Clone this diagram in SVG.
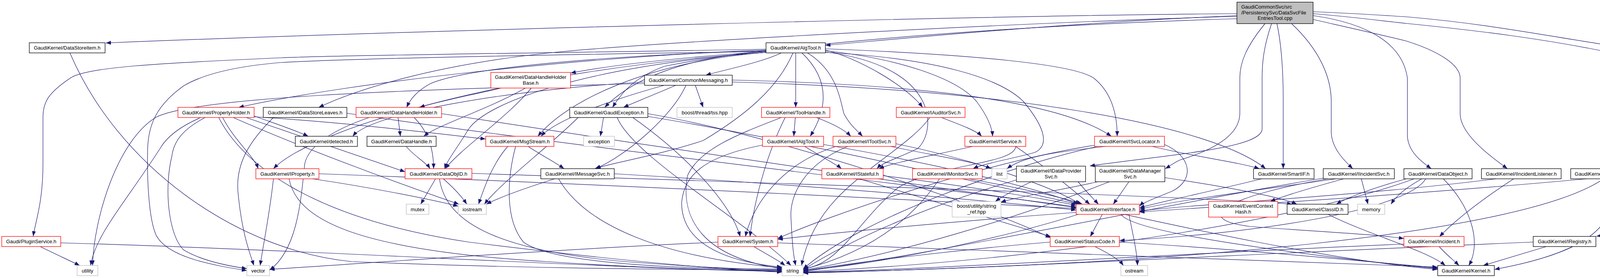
<svg xmlns="http://www.w3.org/2000/svg" width="4320" height="712" viewBox="0 0 4320 712">
<style>
.n rect{fill:#fff;stroke:#000;stroke-width:1.3}
.r rect{stroke:#f00}
.g rect{stroke:#bfbfbf}
.root rect{fill:#bfbfbf}
text{font-family:"Liberation Sans",Arial,sans-serif;font-size:13px;text-anchor:middle;fill:#000}
.l{text-anchor:start}
#edges path{fill:none;stroke:#191970;stroke-width:1.2;marker-end:url(#a)}
</style>
<defs>
<marker id="a" markerUnits="userSpaceOnUse" markerWidth="14" markerHeight="11" refX="13" refY="5" orient="auto"><path d="M0,0 L13,5 L0,10 z" fill="#191970"/></marker>
</defs>
<rect width="4320" height="712" fill="#fff"/>
<g id="edges">
<path d="M3166,35 C2500,40 1000,80 271,110"/>
<path d="M3166,40 C2700,60 2300,100 2113,116"/>
<path d="M3166,42 C2700,55 1800,100 1440,132 C1100,165 900,235 816,275"/>
<path d="M3166,48 C2600,65 2000,110 1700,170 C1620,200 1590,240 1568,275"/>
<path d="M3238,61 C3190,120 3174,160 3174,200 L3174,290 C3174,340 3120,380 3020,410 C3000,420 2990,428 2983,432"/>
<path d="M3255,61 C3235,120 3231,160 3231,200 L3231,330 C3231,380 3000,395 2790,425"/>
<path d="M3269,61 C3282,120 3285,200 3285,250 L3285,432"/>
<path d="M3307,61 C3380,130 3408,200 3408,260 L3408,340 C3410,380 3440,410 3463,432"/>
<path d="M3362,40 C3500,60 3590,110 3603,200 L3603,350 C3606,390 3640,415 3664,432"/>
<path d="M3362,50 C3450,70 3540,90 3600,105 C3680,130 3738,165 3738,200 L3738,293 C3740,340 3800,390 3859,432"/>
<path d="M3362,35 C3480,45 3550,55 3600,60 C3800,80 3950,100 4100,130 C4230,160 4263,180 4263,200 L4263,293 C4263,340 4200,390 4151,432"/>
<path d="M3362,30 C3480,35 3550,40 3600,43 C3800,60 3950,90 4100,113 C4200,125 4290,120 4305,190 L4308,200 L4308,490 C4295,560 4200,590 4087,605"/>
<path d="M1961,126 C1500,135 900,140 720,148 C400,162 220,172 180,200 C120,240 110,265 110,300 L110,420 C110,520 90,570 85,605"/>
<path d="M1961,128 C1500,145 900,210 611,275"/>
<path d="M1961,130 C1600,140 1200,170 1100,215 C1065,235 1050,255 1041,275"/>
<path d="M1961,132 C1700,150 1550,170 1461,187"/>
<path d="M2000,135.5 C1950,160 1850,180 1807,192.5"/>
<path d="M2037,135.5 L2037,275"/>
<path d="M2053,135.5 C2110,190 2130,260 2074,349"/>
<path d="M2067,135.5 C2140,180 2150,250 2160,290 C2175,320 2195,335 2208,349"/>
<path d="M2030,135.5 C1990,230 1900,300 1800,360 C1680,400 1560,418 1523,432"/>
<path d="M2113,128 C2200,150 2320,220 2362,275"/>
<path d="M2113,130 C2300,150 2450,200 2500,260 C2530,300 2540,330 2541,349"/>
<path d="M2113,133 C2400,170 2400,330 2350,380 C2300,405 2260,415 2245,432"/>
<path d="M2113,134 C2400,150 2560,200 2620,260 C2670,320 2690,370 2650,390 C2600,405 2520,418 2491,432"/>
<path d="M2113,125 C2500,140 2750,165 2800,200 C2850,240 2860,300 2860,349"/>
<path d="M1961,134 C1300,180 800,330 700,432"/>
<path d="M1961,134 C1500,170 1250,260 1200,330 C1170,380 1145,410 1138,432"/>
<path d="M1961,130 C1750,150 1620,200 1548,275"/>
<path d="M1961,134 C1650,160 1450,260 1377,349"/>
<path d="M1961,132 C1400,140 900,150 720,160 C600,170 520,190 470,220 C400,270 380,320 378,380 C376,450 380,560 400,603 C430,660 550,680 632,693"/>
<path d="M179,135.5 C300,420 600,640 900,670 C1400,690 1800,690 2002,692"/>
<path d="M103,631.5 C140,650 180,668 204,680"/>
<path d="M155.5,622 C800,640 1600,690 2002,695"/>
<path d="M570,301 C600,360 650,400 661,432"/>
<path d="M514,301 C470,320 430,345 410,380 C320,520 245,600 232,680"/>
<path d="M525,301 C470,330 445,360 440,400 C420,480 430,600 470,640 C520,670 590,682 632,688"/>
<path d="M560,301 C620,420 800,560 1200,620 C1600,670 1850,690 2002,697"/>
<path d="M597,301 C800,390 1050,480 1175,523"/>
<path d="M650.5,297 C700,315 760,335 789,349"/>
<path d="M650.5,299 C900,315 1100,340 1243,356"/>
<path d="M630,301 C800,360 950,410 1037,440"/>
<path d="M700,301 C640,360 600,420 610,500 C620,600 640,650 650,680"/>
<path d="M888,290 C1500,380 2400,480 2755,530"/>
<path d="M1019,301 L1025,349"/>
<path d="M945,301 C860,330 790,370 780,420 C770,520 760,640 690,692"/>
<path d="M1130,291 C1700,380 2400,480 2755,532"/>
<path d="M1060,301 C1100,340 1110,390 1110,432"/>
<path d="M1283,225.5 C1200,245 1120,260 1074,275"/>
<path d="M1345,225.5 C1250,280 1120,320 1085,349"/>
<path d="M1360,225.5 C1300,300 1180,380 1140,432"/>
<path d="M1040,375 C1060,400 1090,415 1101,432"/>
<path d="M1115,458 L1077,523"/>
<path d="M1135,458 C1160,480 1180,500 1195,523"/>
<path d="M1125,458 C1140,560 1250,640 1600,670 C1800,685 1900,690 2002,690"/>
<path d="M1208,444 C2000,470 3000,500 3308,523"/>
<path d="M1352,375 C1390,400 1420,415 1444,432"/>
<path d="M1320,375 C1300,450 1290,560 1340,620 C1420,680 1800,690 2002,689"/>
<path d="M1300,375 C1260,420 1240,480 1225,523"/>
<path d="M1730,218.5 C1680,240 1630,260 1596,275"/>
<path d="M1780,218.5 L1800,275"/>
<path d="M1756,218.5 C1720,300 1600,400 1525,432"/>
<path d="M1874,205 C2300,215 2700,250 2845,349"/>
<path d="M1700,218.5 C1550,260 1420,310 1385,349"/>
<path d="M1874,210 C2600,230 3100,320 3240,432"/>
<path d="M1650,210 C1300,230 950,290 903,349"/>
<path d="M1650,214 C1000,230 500,250 400,300 C300,360 240,560 237,680"/>
<path d="M1545,301 L1537,349"/>
<path d="M1480,301 C1400,380 1280,470 1240,523"/>
<path d="M1580,301 C1620,400 1900,560 2025,680"/>
<path d="M1620,301 C1760,400 1870,520 1895,606"/>
<path d="M1658,291 C2000,350 2500,520 2690,609"/>
<path d="M1658,298 C2400,420 3200,650 3680,690"/>
<path d="M2036,301 L2032,349"/>
<path d="M2090,301 C2140,320 2165,335 2178,349"/>
<path d="M2000,301 C1900,340 1790,380 1760,450 C1740,560 1800,660 2002,688"/>
<path d="M2010,301 C1960,400 1930,520 1920,606"/>
<path d="M2060,375 C2100,400 2140,420 2154,432"/>
<path d="M1960,370 C1800,400 1750,450 1745,520 C1745,620 1850,670 2002,684"/>
<path d="M2108,370 C2400,420 2650,480 2760,523"/>
<path d="M2280,375 C2400,400 2500,415 2537,432"/>
<path d="M2170,375 C2060,420 2020,500 2025,560 C2028,620 2030,650 2037,680"/>
<path d="M2140,375 C2000,420 1930,520 1908,606"/>
<path d="M2293,368 C2500,410 2700,480 2765,523"/>
<path d="M2410,301 C2460,320 2500,335 2513,349"/>
<path d="M2380,301 C2340,360 2230,420 2150,500 C2080,570 2060,640 2052,680"/>
<path d="M2490,375 C2380,400 2290,415 2250,432"/>
<path d="M2600,375 C2600,420 2400,420 2300,480 C2200,560 2150,680 2056,688"/>
<path d="M2600,375 C2680,430 2750,490 2790,523"/>
<path d="M2830,375 C2700,390 2620,400 2578,432"/>
<path d="M2950,375 C3050,400 3170,415 3224,432"/>
<path d="M2981,370 C3050,400 3060,460 3000,490 C2950,510 2925,520 2917,528"/>
<path d="M2810,375 C2600,420 2200,560 2056,689"/>
<path d="M2802,372 C2500,420 2100,560 1991,611"/>
<path d="M816,445 C1500,470 2300,510 2755,534"/>
<path d="M800,458 C950,480 1100,510 1173,528"/>
<path d="M740,458 C760,560 900,640 1400,670 C1700,690 1900,692 2002,694"/>
<path d="M700,458 C690,550 675,620 666,680"/>
<path d="M1420,458 C1350,480 1280,505 1245,523"/>
<path d="M1572,445 C2000,470 2500,510 2755,538"/>
<path d="M1430,458 C1500,580 1700,660 2002,686"/>
<path d="M2261,450 C2500,480 2680,510 2755,526"/>
<path d="M2200,458 C2400,520 2600,580 2690,606"/>
<path d="M2480,458 C2600,480 2720,505 2771,523"/>
<path d="M2405,458 C2350,540 2250,640 2056,690"/>
<path d="M2640,465.5 C2610,480 2570,500 2548,516"/>
<path d="M2760,465.5 C2780,490 2800,510 2812,523"/>
<path d="M2605,460 C2400,520 2200,600 2056,691"/>
<path d="M2810,465.5 C2700,490 2600,505 2562,518"/>
<path d="M2890,465.5 L2850,523"/>
<path d="M2840,465.5 C2600,560 2300,650 2056,692"/>
<path d="M2982,455 C3150,480 3280,505 3320,523"/>
<path d="M3230,458 C3100,490 2980,515 2917,532"/>
<path d="M3420,458 C3200,490 3000,515 2917,536"/>
<path d="M3440,458 C3360,480 3290,500 3252,516"/>
<path d="M3485,458 L3502,523"/>
<path d="M3400,458 C3150,500 3040,560 3200,580 C3400,595 3520,600 3594,611"/>
<path d="M3390,456 C3000,520 2400,650 2056,695"/>
<path d="M3600,458 C3520,480 3450,505 3421,523"/>
<path d="M3640,458 C3600,480 3575,500 3561,523"/>
<path d="M3620,458 C3400,540 2800,660 2056,696"/>
<path d="M3650,458 C3600,540 3200,600 2866,616"/>
<path d="M3695,458 C3775,540 3790,630 3760,680"/>
<path d="M3830,458 C3500,500 3100,520 2917,540"/>
<path d="M3875,458 C3780,520 3720,570 3685,606"/>
<path d="M4062,458 C3600,500 3100,530 2917,543"/>
<path d="M4128,458 C4140,560 4100,640 3826,690"/>
<path d="M4105,458 C3900,600 3000,680 2056,698"/>
<path d="M3925,620 C3200,650 2500,690 2056,699"/>
<path d="M3960,631 C3880,655 3830,670 3797,680"/>
<path d="M3684,631 C3700,650 3720,665 3735,680"/>
<path d="M3594,625 C3000,650 2400,690 2056,697"/>
<path d="M2822,549 C2810,570 2800,590 2791,606"/>
<path d="M2755,544 C2400,570 2100,600 1991,613"/>
<path d="M2870,549 C2900,600 3400,660 3680,688"/>
<path d="M2890,549 C2900,600 2910,640 2912,680"/>
<path d="M2760,549 C2600,600 2300,670 2056,693"/>
<path d="M2803,631.5 C2840,650 2865,665 2876,680"/>
<path d="M2866,620 C3200,640 3500,670 3680,686"/>
<path d="M2688,620 C2450,640 2200,670 2056,694"/>
<path d="M1930,631.5 C1960,650 1990,665 2010,680"/>
<path d="M1838,620 C1400,640 1000,670 690,690"/>
<path d="M1991,622 C2600,640 3200,670 3680,684"/>
<path d="M3400,549 C3500,600 3650,640 3700,680"/>
</g>
<g id="node_root" class="n root"><rect x="3166.5" y="5.5" width="195" height="55"/><text class="l" x="3177.5" y="21.5">GaudiCommonSvc/src</text><text class="l" x="3177.5" y="36.5">/PersistencySvc/DataSvcFile</text><text x="3264" y="51">EntriesTool.cpp</text></g>
<g id="node_DataStoreItem" class="n"><rect x="75" y="109.5" width="194" height="26"/><text x="172" y="127">GaudiKernel/DataStoreItem.h</text></g>
<g id="node_AlgTool" class="n"><rect x="1961" y="109.5" width="152" height="26"/><text x="2037" y="127">GaudiKernel/AlgTool.h</text></g>
<g id="node_DataHandleHolderBase" class="n r"><rect x="1256.5" y="185.5" width="204" height="40"/><text x="1358.5" y="201.5">GaudiKernel/DataHandleHolder</text><text x="1358.5" y="216.5">Base.h</text></g>
<g id="node_CommonMessaging" class="n"><rect x="1650" y="192.5" width="224.5" height="26"/><text x="1762" y="210">GaudiKernel/CommonMessaging.h</text></g>
<g id="node_PropertyHolder" class="n r"><rect x="455.5" y="275" width="195" height="26"/><text x="553" y="292.5">GaudiKernel/PropertyHolder.h</text></g>
<g id="node_IDataStoreLeaves" class="n"><rect x="674" y="275" width="214" height="26"/><text x="781" y="292.5">GaudiKernel/IDataStoreLeaves.h</text></g>
<g id="node_IDataHandleHolder" class="n r"><rect x="911.5" y="275" width="219" height="26"/><text x="1021" y="292.5">GaudiKernel/IDataHandleHolder.h</text></g>
<g id="node_GaudiException" class="n"><rect x="1458.5" y="275" width="200" height="26"/><text x="1558.5" y="292.5">GaudiKernel/GaudiException.h</text></g>
<g id="node_tss" class="n g"><rect x="1733" y="275" width="141.5" height="26"/><text x="1804" y="292.5">boost/thread/tss.hpp</text></g>
<g id="node_ToolHandle" class="n r"><rect x="1949.5" y="275" width="175" height="26"/><text x="2037" y="292.5">GaudiKernel/ToolHandle.h</text></g>
<g id="node_IAuditorSvc" class="n r"><rect x="2294.5" y="275" width="176" height="26"/><text x="2382.5" y="292.5">GaudiKernel/IAuditorSvc.h</text></g>
<g id="node_detected" class="n"><rect x="756" y="349" width="159" height="26"/><text x="835.5" y="366.5">GaudiKernel/detected.h</text></g>
<g id="node_DataHandle" class="n"><rect x="939.5" y="349" width="177" height="26"/><text x="1028" y="366.5">GaudiKernel/DataHandle.h</text></g>
<g id="node_MsgStream" class="n r"><rect x="1243.5" y="349" width="174.5" height="26"/><text x="1330.7" y="366.5">GaudiKernel/MsgStream.h</text></g>
<g id="node_exception" class="n g"><rect x="1494" y="349" width="79" height="26"/><text x="1533.5" y="366.5">exception</text></g>
<g id="node_IAlgTool" class="n r"><rect x="1952" y="349" width="156.5" height="26"/><text x="2030.2" y="366.5">GaudiKernel/IAlgTool.h</text></g>
<g id="node_IToolSvc" class="n r"><rect x="2132.5" y="349" width="161" height="26"/><text x="2213" y="366.5">GaudiKernel/IToolSvc.h</text></g>
<g id="node_IService" class="n r"><rect x="2470" y="349" width="156" height="26"/><text x="2548" y="366.5">GaudiKernel/IService.h</text></g>
<g id="node_ISvcLocator" class="n r"><rect x="2802" y="349" width="179" height="26"/><text x="2891.5" y="366.5">GaudiKernel/ISvcLocator.h</text></g>
<g id="node_IProperty" class="n r"><rect x="655" y="432" width="161.5" height="26"/><text x="735.7" y="449.5">GaudiKernel/IProperty.h</text></g>
<g id="node_DataObjID" class="n r"><rect x="1037" y="432" width="171" height="26"/><text x="1122.5" y="449.5">GaudiKernel/DataObjID.h</text></g>
<g id="node_IMessageSvc" class="n"><rect x="1384.5" y="432" width="188" height="26"/><text x="1478.5" y="449.5">GaudiKernel/IMessageSvc.h</text></g>
<g id="node_IStateful" class="n r"><rect x="2104" y="432" width="157" height="26"/><text x="2182.5" y="449.5">GaudiKernel/IStateful.h</text></g>
<g id="node_IMonitorSvc" class="n r"><rect x="2336" y="432" width="178.5" height="26"/><text x="2425.2" y="449.5">GaudiKernel/IMonitorSvc.h</text></g>
<g id="node_list" class="n g"><rect x="2539" y="432" width="39" height="26"/><text x="2558.5" y="449.5">list</text></g>
<g id="node_IDataProviderSvc" class="n"><rect x="2602" y="425.5" width="177" height="40"/><text x="2690.5" y="441.5">GaudiKernel/IDataProvider</text><text x="2690.5" y="456.5">Svc.h</text></g>
<g id="node_IDataManagerSvc" class="n"><rect x="2804" y="425.5" width="178" height="40"/><text x="2893" y="441.5">GaudiKernel/IDataManager</text><text x="2893" y="456.5">Svc.h</text></g>
<g id="node_SmartIF" class="n"><rect x="3209" y="432" width="155" height="26"/><text x="3286.5" y="449.5">GaudiKernel/SmartIF.h</text></g>
<g id="node_IIncidentSvc" class="n"><rect x="3387.5" y="432" width="182" height="26"/><text x="3478.5" y="449.5">GaudiKernel/IIncidentSvc.h</text></g>
<g id="node_DataObject" class="n"><rect x="3594" y="432" width="174.5" height="26"/><text x="3681.2" y="449.5">GaudiKernel/DataObject.h</text></g>
<g id="node_IIncidentListener" class="n"><rect x="3792.5" y="432" width="204" height="26"/><text x="3894.5" y="449.5">GaudiKernel/IIncidentListener.h</text></g>
<g id="node_IOpaqueAddress" class="n"><rect x="4021" y="432" width="205" height="26"/><text x="4123.5" y="449.5">GaudiKernel/IOpaqueAddress.h</text></g>
<g id="node_mutex" class="n g"><rect x="1040" y="523" width="58" height="26"/><text x="1069" y="540.5">mutex</text></g>
<g id="node_iostream" class="n g"><rect x="1173" y="523" width="72" height="26"/><text x="1209" y="540.5">iostream</text></g>
<g id="node_string_ref" class="n g"><rect x="2437.5" y="516" width="125" height="40"/><text x="2500" y="532">boost/utility/string</text><text x="2500" y="547">_ref.hpp</text></g>
<g id="node_IInterface" class="n r"><rect x="2755" y="523" width="162" height="26"/><text x="2836" y="540.5">GaudiKernel/IInterface.h</text></g>
<g id="node_EventContextHash" class="n r"><rect x="3094" y="516" width="177" height="40"/><text x="3182.5" y="532">GaudiKernel/EventContext</text><text x="3182.5" y="547">Hash.h</text></g>
<g id="node_ClassID" class="n"><rect x="3295" y="523" width="156" height="26"/><text x="3373" y="540.5">GaudiKernel/ClassID.h</text></g>
<g id="node_memory" class="n g"><rect x="3475.5" y="523" width="69.5" height="26"/><text x="3510.2" y="540.5">memory</text></g>
<g id="node_PluginService" class="n r"><rect x="4.5" y="605.5" width="151" height="26"/><text x="80" y="623">Gaudi/PluginService.h</text></g>
<g id="node_System" class="n r"><rect x="1838" y="605.5" width="153" height="26"/><text x="1914.5" y="623">GaudiKernel/System.h</text></g>
<g id="node_StatusCode" class="n r"><rect x="2688.5" y="605.5" width="177" height="26"/><text x="2777" y="623">GaudiKernel/StatusCode.h</text></g>
<g id="node_Incident" class="n r"><rect x="3594" y="605.5" width="154" height="26"/><text x="3671" y="623">GaudiKernel/Incident.h</text></g>
<g id="node_IRegistry" class="n"><rect x="3925" y="605.5" width="160.5" height="26"/><text x="4005.2" y="623">GaudiKernel/IRegistry.h</text></g>
<g id="node_utility" class="n g"><rect x="197.5" y="680" width="53" height="26"/><text x="224" y="697.5">utility</text></g>
<g id="node_vector" class="n g"><rect x="632" y="680" width="58" height="26"/><text x="661" y="697.5">vector</text></g>
<g id="node_string" class="n g"><rect x="2002" y="680" width="54" height="26"/><text x="2029" y="697.5">string</text></g>
<g id="node_ostream" class="n g"><rect x="2869.5" y="680" width="68.5" height="26"/><text x="2903.7" y="697.5">ostream</text></g>
<g id="node_Kernel" class="n"><rect x="3680.5" y="680" width="145" height="26"/><text x="3753" y="697.5">GaudiKernel/Kernel.h</text></g>
</svg>
